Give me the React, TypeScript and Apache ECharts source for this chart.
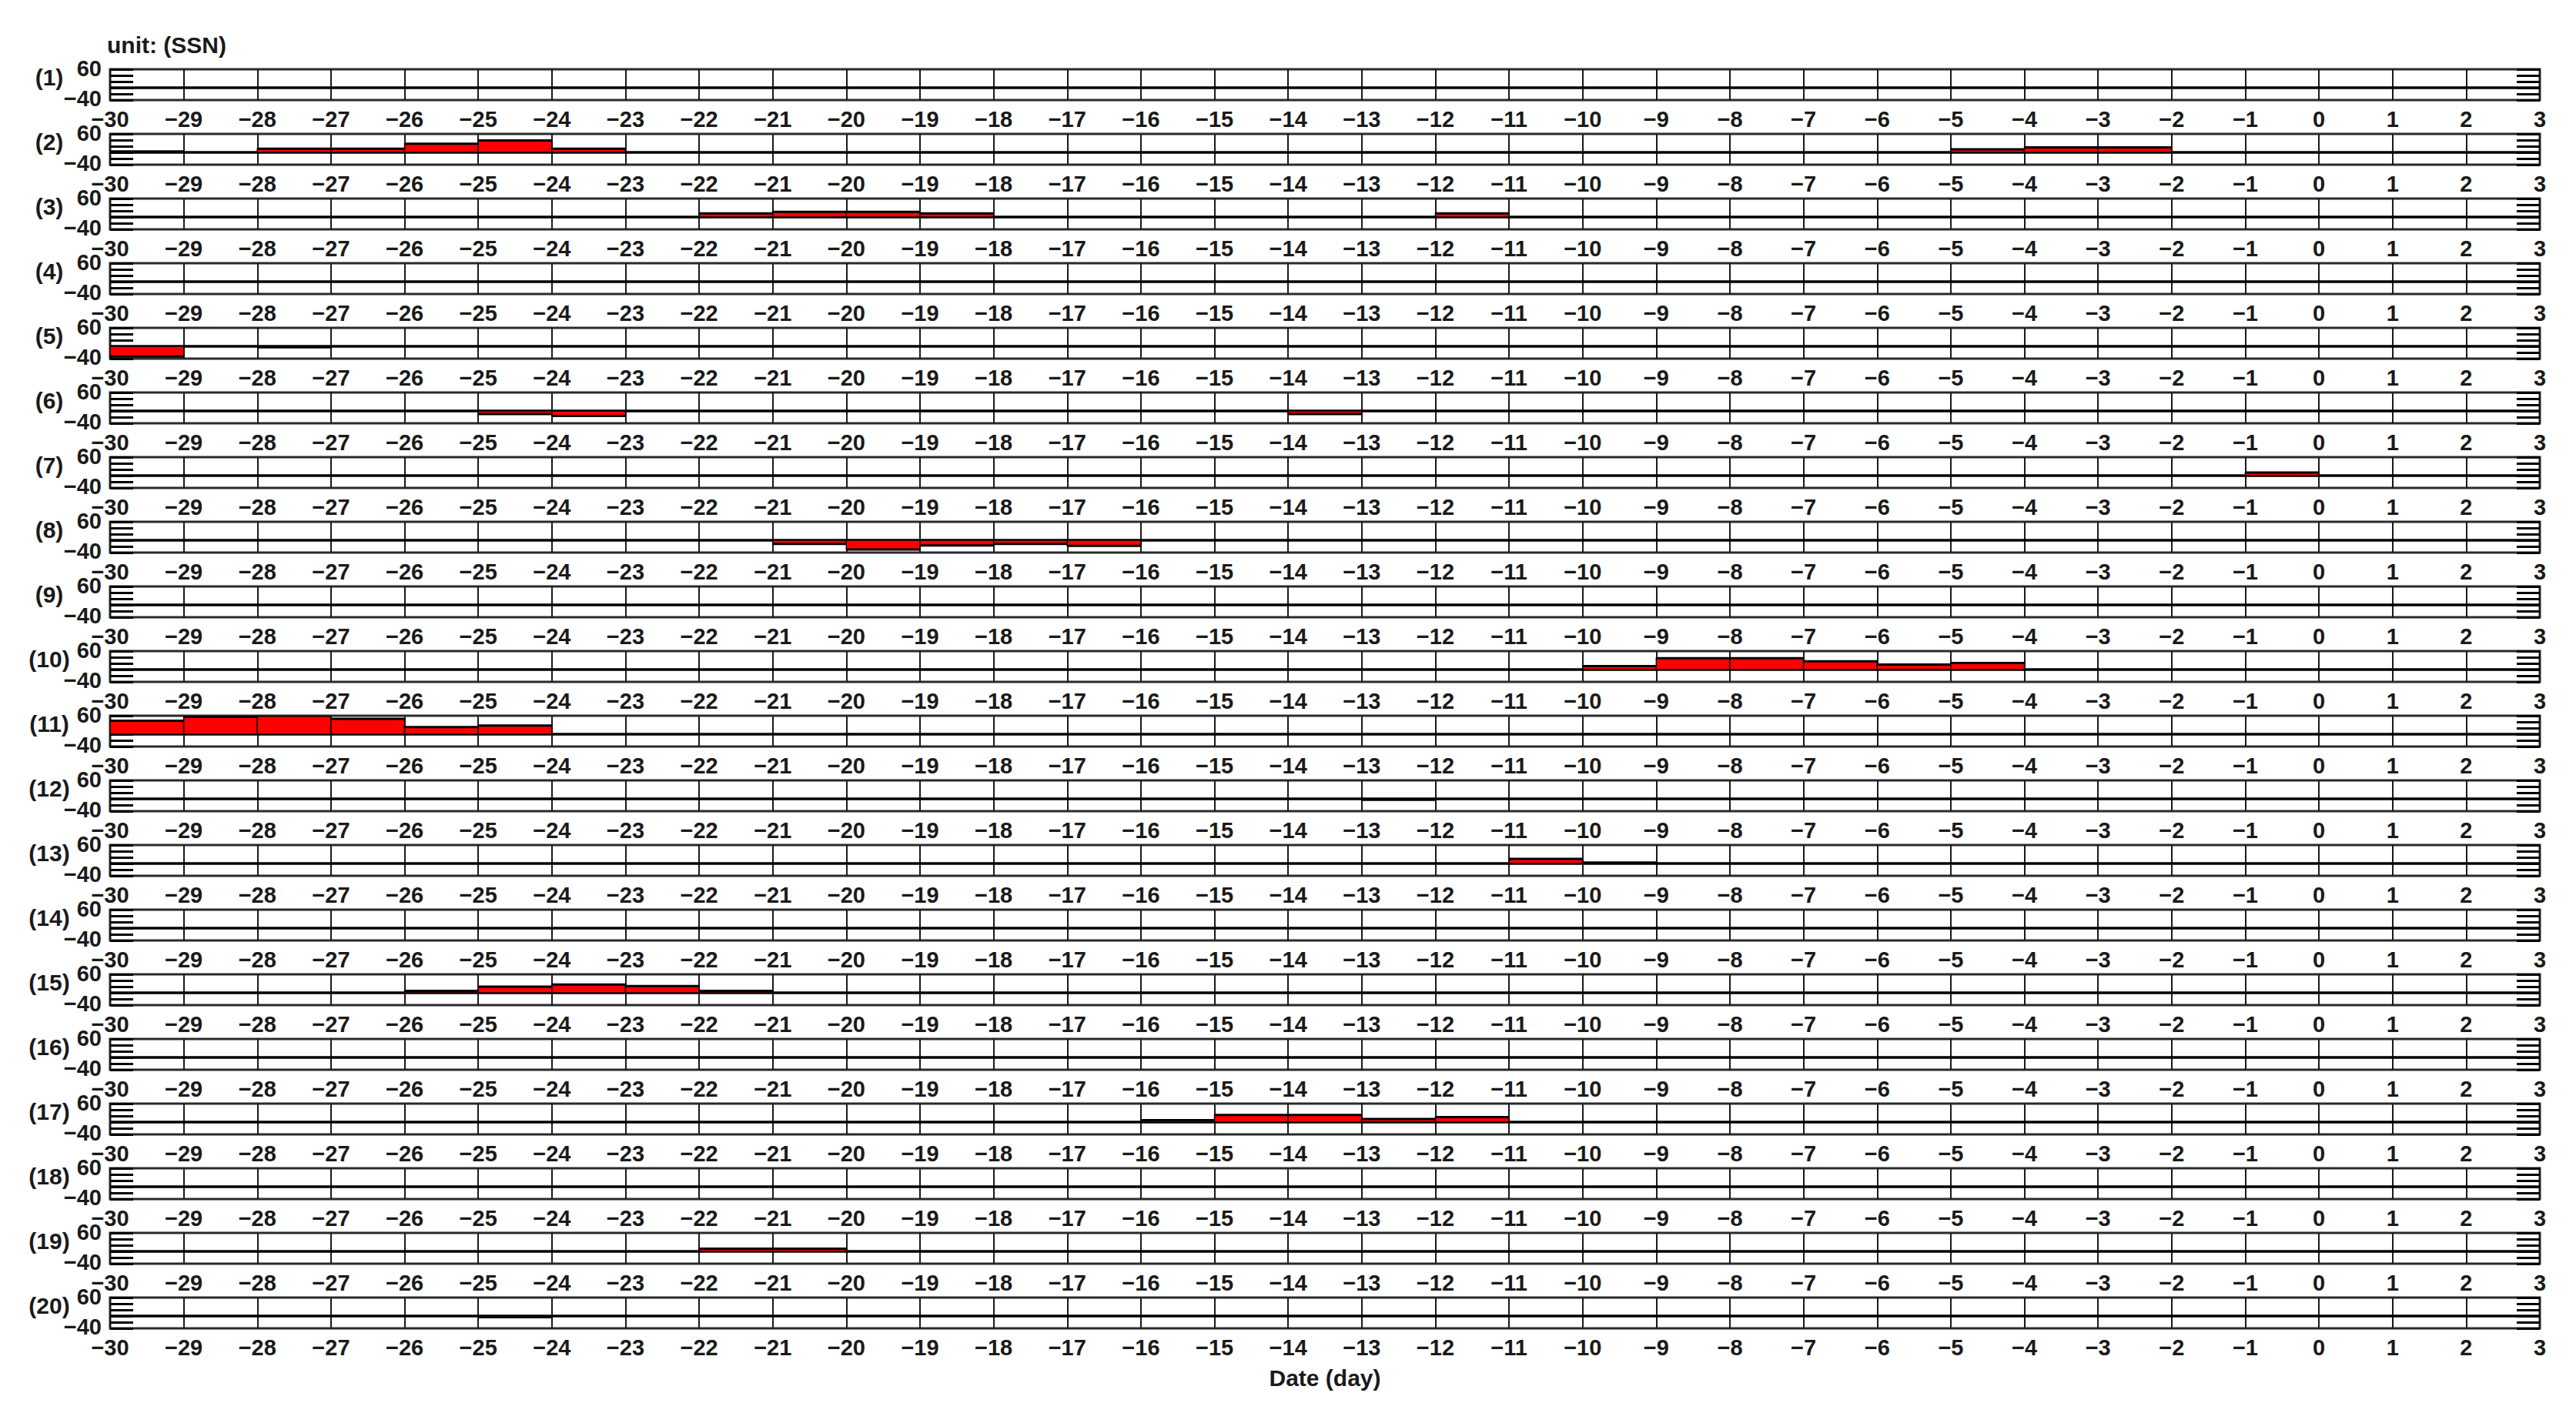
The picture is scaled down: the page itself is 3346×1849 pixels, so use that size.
import React, { useEffect, useRef } from 'react';
import * as echarts from 'echarts';

// Axis ranges
const X_MIN = -30;
const X_MAX = 3;
const Y_MIN = -40;
const Y_MAX = 60;
const Y_STEP = 20;

// Each panel: [segment start day, value] — segment spans [day, day+1]
const panel01: [number, number][] = [];
const panel02: [number, number][] = [[-30, 3], [-28, 12], [-27, 12], [-26, 28], [-25, 39], [-24, 12], [-5, 10], [-4, 16], [-3, 16]];
const panel03: [number, number][] = [[-22, 12], [-21, 17], [-20, 17], [-19, 12], [-12, 12]];
const panel04: [number, number][] = [];
const panel05: [number, number][] = [[-30, -33], [-28, -3]];
const panel06: [number, number][] = [[-25, -10], [-24, -16], [-14, -10]];
const panel07: [number, number][] = [[-1, 10]];
const panel08: [number, number][] = [[-21, -12], [-20, -30], [-19, -17], [-18, -12], [-17, -18]];
const panel09: [number, number][] = [];
const panel10: [number, number][] = [[-10, 11], [-9, 37], [-8, 37], [-7, 27], [-6, 16], [-5, 21]];
const panel11: [number, number][] = [[-30, 44], [-29, 56], [-28, 60], [-27, 50], [-26, 23], [-25, 28]];
const panel12: [number, number][] = [[-13, -3]];
const panel13: [number, number][] = [[-11, 15], [-10, 3]];
const panel14: [number, number][] = [];
const panel15: [number, number][] = [[-26, 6], [-25, 20], [-24, 27], [-23, 22], [-22, 6]];
const panel16: [number, number][] = [];
const panel17: [number, number][] = [[-16, 6], [-15, 23], [-14, 23], [-13, 10], [-12, 16]];
const panel18: [number, number][] = [];
const panel19: [number, number][] = [[-22, 9], [-21, 9]];
const panel20: [number, number][] = [[-25, -4]];

const panels = [
  panel01, panel02, panel03, panel04, panel05, panel06, panel07, panel08, panel09, panel10,
  panel11, panel12, panel13, panel14, panel15, panel16, panel17, panel18, panel19, panel20,
];
const panelLabels = panels.map((_, i) => `(${i + 1})`);
const zeroLine: [number, number][] = [[X_MIN, 0], [X_MAX, 0]];

const UNIT_TEXT = 'unit: (SSN)';
const X_TITLE = 'Date (day)';

const FONT = '"Liberation Sans", Arial, sans-serif';
const TXT = '#1a1a1a';

const W = 3346;
const H = 1849;
const LEFT = 143;
const RIGHT = 47;
const TOP0 = 90;
const STEP = 84;
const PH = 40;

const minus = (s: string) => s.replace('-', '\u2212');

export default function App() {
  const ref = useRef<HTMLDivElement>(null);
  useEffect(() => {
    if (!ref.current) return;
    const chart = echarts.init(ref.current, null, { renderer: 'svg' });
    const grids: any[] = [];
    const xAxes: any[] = [];
    const yAxes: any[] = [];
    const series: any[] = [];
    const graphics: any[] = [];

    panels.forEach((data, i) => {
      const top = TOP0 + STEP * i;
      grids.push({
        left: LEFT, right: RIGHT, top, height: PH,
        show: true, borderColor: '#2a2a2a', borderWidth: 3, backgroundColor: 'transparent',
      });
      xAxes.push({
        type: 'value', gridIndex: i, min: X_MIN, max: X_MAX, interval: 1,
        axisLine: { show: false, onZero: false }, axisTick: { show: false },
        splitLine: { show: true, lineStyle: { color: '#1a1a1a', width: 2 } },
        axisLabel: {
          show: true, margin: 15, fontSize: 29, lineHeight: 20, fontWeight: 'bold', color: TXT, fontFamily: FONT,
          showMinLabel: true, showMaxLabel: true,
          formatter: (v: number) => minus(String(v)),
        },
        name: i === panels.length - 1 ? X_TITLE : '',
        nameLocation: 'middle', nameGap: 49,
        nameTextStyle: { fontSize: 30, fontWeight: 'bold', color: TXT, fontFamily: FONT },
      });
      const yCommon = {
        type: 'value', gridIndex: i, min: Y_MIN, max: Y_MAX, interval: Y_STEP,
        axisLine: { show: false, onZero: false },
        splitLine: { show: false },
        axisTick: { show: true, inside: true, length: 30, lineStyle: { color: '#000', width: 3 } },
      };
      yAxes.push({
        ...yCommon, position: 'left',
        axisLabel: {
          show: true, margin: 11, fontSize: 29, lineHeight: 20, fontWeight: 'bold', color: TXT, fontFamily: FONT,
          showMinLabel: true, showMaxLabel: true,
          formatter: (v: number) => (v === Y_MAX ? `{t|${v}}` : v === Y_MIN ? `{b|${minus(String(v))}}` : ''),
          rich: {
            t: { fontSize: 29, lineHeight: 20, fontWeight: 'bold', color: TXT, fontFamily: FONT, padding: [0, 0, 2, 0] },
            b: { fontSize: 29, lineHeight: 20, fontWeight: 'bold', color: TXT, fontFamily: FONT, padding: [0, 0, 4, 0] },
          },
        },
      });
      yAxes.push({
        ...yCommon, position: 'right',
        axisLabel: { show: false },
      });
      series.push({
        type: 'line', xAxisIndex: i, yAxisIndex: 2 * i, data: zeroLine, z: 1,
        symbol: 'none', silent: true, lineStyle: { color: '#000', width: 3.5 },
      });
      series.push({
        type: 'custom', xAxisIndex: i, yAxisIndex: 2 * i, clip: true, z: 2,
        data,
        renderItem: (_params: any, api: any) => {
          const d = api.value(0);
          const v = api.value(1);
          const p0 = api.coord([d, 0]);
          const p1 = api.coord([d + 1, v]);
          return {
            type: 'group',
            children: [
              {
                type: 'rect',
                shape: { x: p0[0], y: Math.min(p0[1], p1[1]), width: p1[0] - p0[0], height: Math.abs(p1[1] - p0[1]) },
                style: { fill: '#ff0000', stroke: '#000', lineWidth: 1.5 },
              },
              {
                type: 'line',
                shape: { x1: p0[0], y1: p1[1], x2: p1[0], y2: p1[1] },
                style: { stroke: '#000', lineWidth: 3 },
              },
            ],
          };
        },
      });
      graphics.push({
        type: 'text', x: 64, y: top + 10,
        style: {
          text: panelLabels[i], fill: TXT, font: `bold 30px ${FONT}`,
          textAlign: 'center', textVerticalAlign: 'middle',
        },
      });
    });

    graphics.push({
      type: 'text', x: 139, y: 58,
      style: { text: UNIT_TEXT, fill: TXT, font: `bold 30px ${FONT}`, textAlign: 'left', textVerticalAlign: 'middle' },
    });

    chart.setOption({
      animation: false,
      backgroundColor: '#ffffff',
      grid: grids,
      xAxis: xAxes,
      yAxis: yAxes,
      series,
      graphic: { elements: graphics },
    });
    return () => chart.dispose();
  }, []);
  return <div ref={ref} style={{ position: 'fixed', left: 0, top: 0, width: W, height: H }} />;
}
